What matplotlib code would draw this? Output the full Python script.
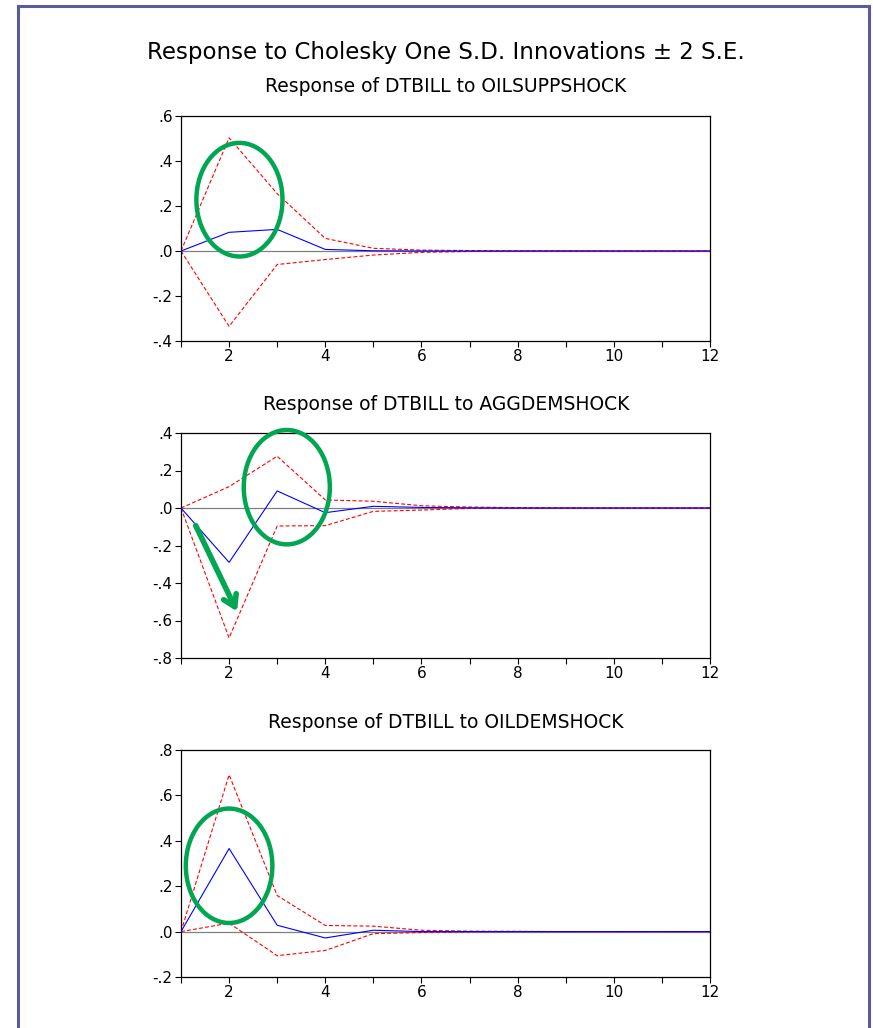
import matplotlib
matplotlib.use("Agg")
import matplotlib.pyplot as plt
from matplotlib.patches import Ellipse
from matplotlib.lines import Line2D

plt.rcParams['font.family'] = ['DejaVu Sans']

periods = [1, 2, 3, 4, 5, 6, 7, 8, 9, 10, 11, 12]

# Response of DTBILL to OILSUPPSHOCK
supp_resp = [0, 0.083, 0.096, 0.007, 0.001, 0, 0, 0, 0, 0, 0, 0]
supp_up = [0, 0.503, 0.255, 0.056, 0.012, 0.004, 0.002, 0.001, 0.001, 0, 0, 0]
supp_lo = [0, -0.335, -0.060, -0.038, -0.018, -0.006, -0.002, -0.001, 0, 0, 0, 0]

# Response of DTBILL to AGGDEMSHOCK
agg_resp = [0, -0.290, 0.091, -0.025, 0.009, 0.003, 0.001, 0, 0, 0, 0, 0]
agg_up = [0, 0.114, 0.276, 0.043, 0.036, 0.012, 0.005, 0.002, 0.001, 0, 0, 0]
agg_lo = [0, -0.693, -0.096, -0.094, -0.018, -0.011, -0.002, -0.001, 0, 0, 0, 0]

# Response of DTBILL to OILDEMSHOCK
oild_resp = [0, 0.366, 0.028, -0.028, 0.006, 0, 0, 0, 0, 0, 0, 0]
oild_up = [0, 0.691, 0.159, 0.027, 0.024, 0.006, 0.002, 0.001, 0, 0, 0, 0]
oild_lo = [0, 0.037, -0.106, -0.083, -0.009, -0.004, -0.001, 0, 0, 0, 0, 0]

titles = ["Response of DTBILL to OILSUPPSHOCK",
          "Response of DTBILL to AGGDEMSHOCK",
          "Response of DTBILL to OILDEMSHOCK"]
yticks = [[0.6, 0.4, 0.2, 0.0, -0.2, -0.4],
          [0.4, 0.2, 0.0, -0.2, -0.4, -0.6, -0.8],
          [0.8, 0.6, 0.4, 0.2, 0.0, -0.2]]
ylims = [(-0.4, 0.6), (-0.8, 0.4), (-0.2, 0.8)]
series = [(supp_resp, supp_up, supp_lo),
          (agg_resp, agg_up, agg_lo),
          (oild_resp, oild_up, oild_lo)]

# green annotation ellipses: (x, y, width, height) in data units
ellipses = [(2.215, 0.228, 1.79, 0.505),
            (3.20, 0.111, 1.79, 0.61),
            (2.00, 0.29, 1.80, 0.504)]

green = '#00a651'


def fmt(v):
    s = "%.1f" % v
    s = s.replace("0.", ".")
    if s == "-.0":
        s = ".0"
    return s


fig = plt.figure(figsize=(8.73, 10.28), dpi=100)

# outer frame
fc = '#5b5b9c'
fig.add_artist(Line2D([18 / 873, 18 / 873], [0, 1 - 6 / 1028], transform=fig.transFigure, color=fc, lw=2.2))
fig.add_artist(Line2D([869 / 873, 869 / 873], [0, 1 - 6 / 1028], transform=fig.transFigure, color=fc, lw=2.2))
fig.add_artist(Line2D([18 / 873, 869 / 873], [1 - 6 / 1028, 1 - 6 / 1028], transform=fig.transFigure, color=fc, lw=2.2))

fig.text(446 / 873, 1 - 52 / 1028, "Response to Cholesky One S.D. Innovations \u00b1 2 S.E.",
         ha='center', va='center', fontsize=16.5)

boxes = [(116, 341), (433, 658), (750, 977)]
title_y = [87, 405, 722]
left = 181 / 873
width = (710 - 181) / 873

for i in range(3):
    top, bot = boxes[i]
    ax = fig.add_axes([left, 1 - bot / 1028, width, (bot - top) / 1028])
    resp, up, lo = series[i]
    ax.axhline(0, color='#808080', lw=0.9, zorder=1)
    ax.plot(periods, up, color='red', lw=0.8, ls=(0, (3.5, 2)), zorder=2)
    ax.plot(periods, lo, color='red', lw=0.8, ls=(0, (3.5, 2)), zorder=2)
    ax.plot(periods, resp, color='blue', lw=0.8, zorder=3)
    ax.set_xlim(1, 12)
    ax.set_ylim(*ylims[i])
    ax.set_yticks(yticks[i])
    ax.set_yticklabels([fmt(v) for v in yticks[i]])
    ax.set_xticks(periods)
    ax.set_xticklabels([str(p) if p % 2 == 0 else "" for p in periods])
    ax.tick_params(direction='out', length=4, width=0.8, labelsize=11, pad=2)
    for sp in ax.spines.values():
        sp.set_linewidth(0.9)
    fig.text(446 / 873, 1 - title_y[i] / 1028, titles[i], ha='center', va='center', fontsize=13.5)

    ex, ey, ew, eh = ellipses[i]
    ax.add_patch(Ellipse((ex, ey), ew, eh, fill=False, edgecolor=green, lw=3.2,
                         clip_on=False, zorder=5))
    if i == 1:
        ax.annotate("", xy=(2.19, -0.565), xytext=(1.28, -0.08),
                    arrowprops=dict(arrowstyle='->,head_length=0.8,head_width=0.5',
                                    color=green, lw=4), annotation_clip=False, zorder=5)

fig.savefig("out.png", dpi=100)
